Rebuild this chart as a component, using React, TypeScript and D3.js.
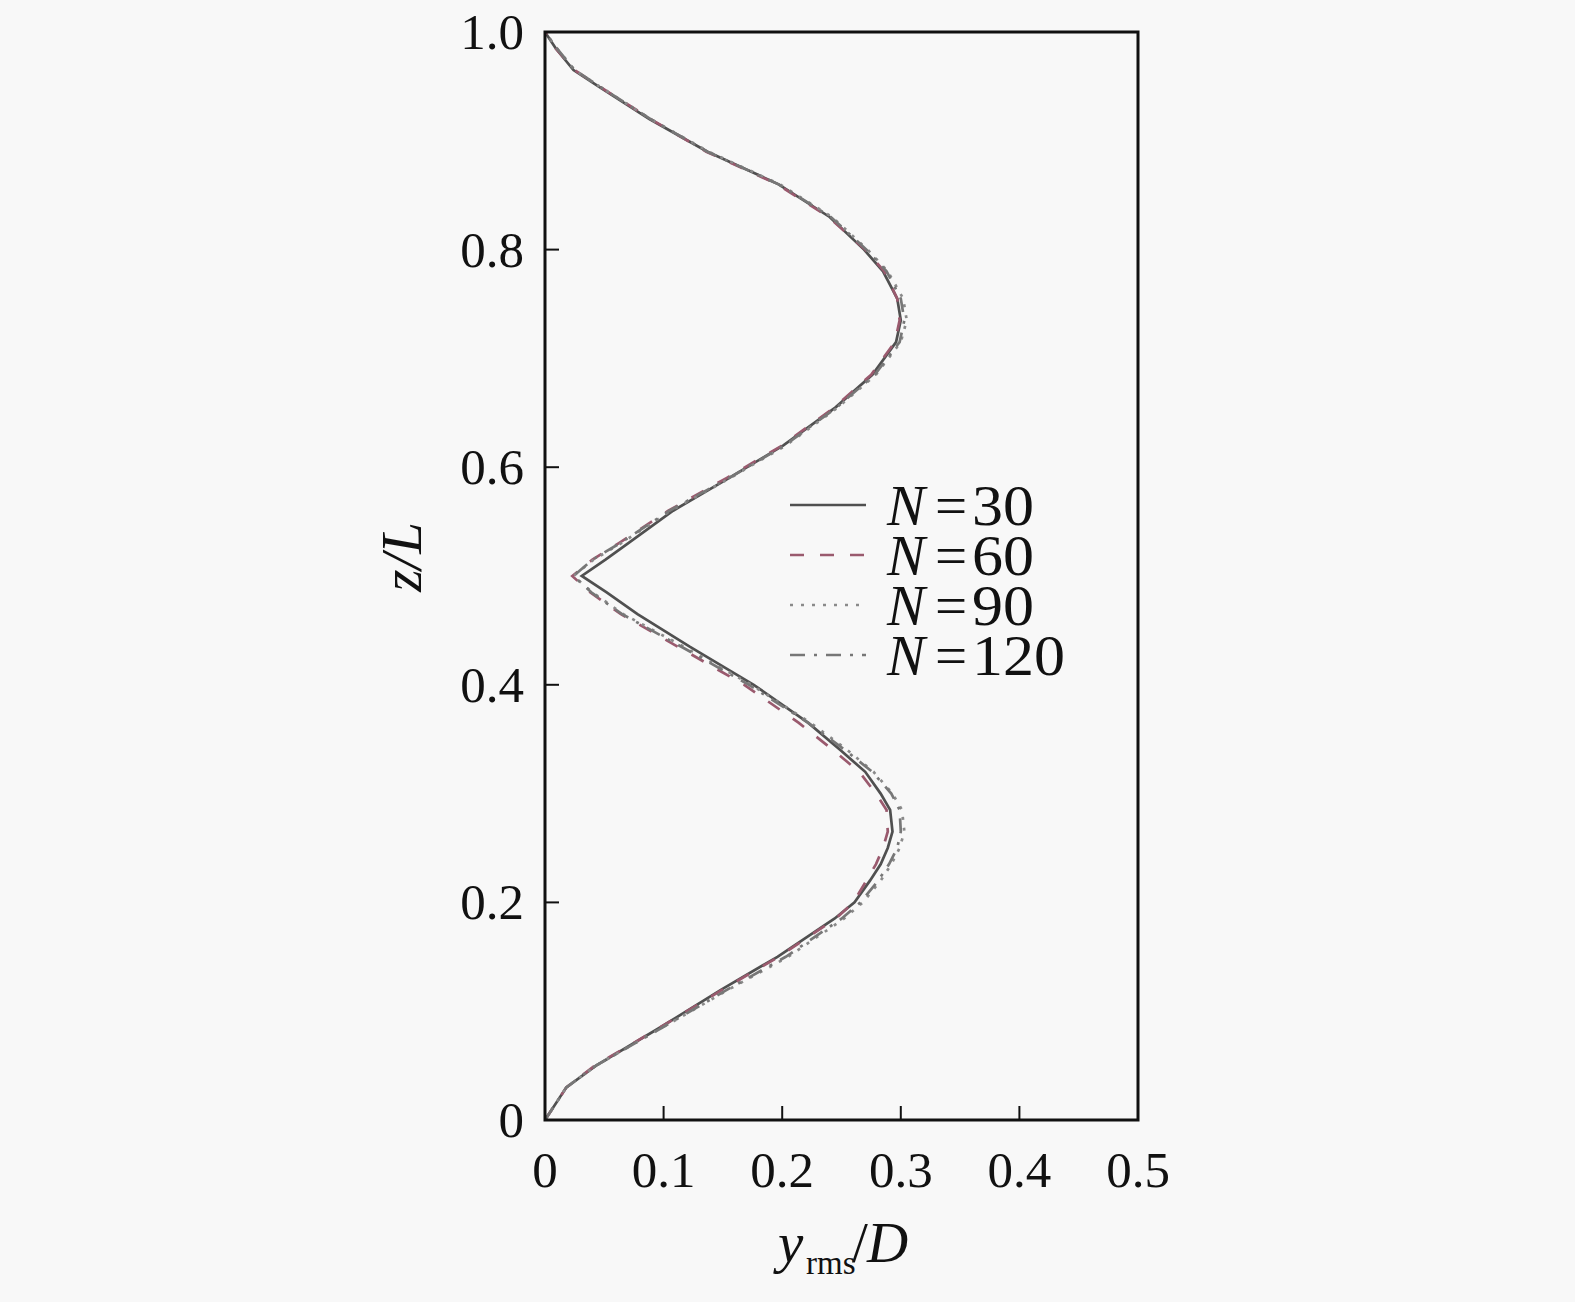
import React from "react";
import * as d3 from "d3";

const zGrid = [0, 0.03, 0.05, 0.085, 0.12, 0.15, 0.185, 0.2, 0.22, 0.235, 0.25, 0.265, 0.285, 0.3, 0.32, 0.34, 0.365, 0.4, 0.435, 0.465, 0.485, 0.5, 0.515, 0.53, 0.56, 0.59, 0.62, 0.655, 0.685, 0.715, 0.735, 0.755, 0.78, 0.8, 0.83, 0.86, 0.89, 0.92, 0.95, 0.965, 0.985, 1.0];

const n30 = [0, 0.018, 0.043, 0.097, 0.149, 0.196, 0.244, 0.261, 0.274, 0.283, 0.289, 0.293, 0.291, 0.283, 0.27, 0.249, 0.222, 0.176, 0.122, 0.078, 0.052, 0.031, 0.051, 0.07, 0.108, 0.155, 0.201, 0.245, 0.276, 0.296, 0.3, 0.297, 0.285, 0.269, 0.24, 0.197, 0.137, 0.088, 0.045, 0.024, 0.009, 0];
const n60 = [0, 0.018, 0.042, 0.097, 0.15, 0.197, 0.245, 0.26, 0.271, 0.279, 0.285, 0.289, 0.288, 0.279, 0.265, 0.243, 0.214, 0.168, 0.112, 0.064, 0.038, 0.023, 0.04, 0.062, 0.104, 0.153, 0.2, 0.244, 0.275, 0.295, 0.299, 0.297, 0.286, 0.27, 0.239, 0.196, 0.136, 0.089, 0.046, 0.025, 0.009, 0];
const n90 = [0, 0.018, 0.043, 0.099, 0.155, 0.205, 0.252, 0.268, 0.283, 0.292, 0.299, 0.303, 0.301, 0.293, 0.277, 0.255, 0.224, 0.174, 0.117, 0.066, 0.04, 0.024, 0.041, 0.064, 0.106, 0.156, 0.203, 0.247, 0.279, 0.3, 0.305, 0.302, 0.289, 0.272, 0.242, 0.198, 0.138, 0.089, 0.046, 0.025, 0.01, 0];
const n120 = [0, 0.018, 0.043, 0.099, 0.154, 0.203, 0.25, 0.266, 0.281, 0.29, 0.297, 0.3, 0.299, 0.292, 0.276, 0.253, 0.222, 0.172, 0.115, 0.065, 0.039, 0.024, 0.04, 0.063, 0.105, 0.155, 0.202, 0.246, 0.278, 0.299, 0.303, 0.3, 0.288, 0.271, 0.241, 0.197, 0.137, 0.089, 0.046, 0.025, 0.01, 0];

const seriesNames = ["30", "60", "90", "120"];
const seriesValues = [n30, n60, n90, n120];
const seriesColors = ["#505050", "#9a5a6e", "#8a8a8a", "#777777"];
const seriesDash = ["none", "14,16", "3,8", "15,9,3,9"];

const xTicks = [0, 0.1, 0.2, 0.3, 0.4, 0.5];
const yTicks = [0, 0.2, 0.4, 0.6, 0.8, 1.0];
const yTickLabels = ["0", "0.2", "0.4", "0.6", "0.8", "1.0"];

export default function App() {
  const W = 1575, H = 1302;
  const left = 545, right = 1138, top = 32, bottom = 1120;
  const x = d3.scaleLinear().domain([0, 0.5]).range([left, right]);
  const y = d3.scaleLinear().domain([0, 1]).range([bottom, top]);
  const line = d3.line<[number, number]>().x((d) => x(d[0])).y((d) => y(d[1]));
  const font = "'Liberation Serif', 'Times New Roman', serif";
  const legX0 = 790, legX1 = 866;
  const legY = [505, 555, 605, 655];

  return (
    <svg width={W} height={H} style={{ position: "absolute", left: 0, top: 0, background: "#f8f8f8" }} fontFamily={font}>
      <rect x={0} y={0} width={W} height={H} fill="#f8f8f8" />
      {seriesValues.map((vals, i) => (
        <path key={i} d={line(vals.map((v, j) => [v, zGrid[j]] as [number, number])) || ""} fill="none"
          stroke={seriesColors[i]} strokeWidth={2.7} strokeDasharray={seriesDash[i]} />
      ))}
      <rect x={left} y={top} width={right - left} height={bottom - top} fill="none" stroke="#111" strokeWidth={3} />
      {xTicks.filter((t) => t > 0 && t < 0.5).map((t) => (
        <line key={t} x1={x(t)} x2={x(t)} y1={bottom} y2={bottom - 14} stroke="#111" strokeWidth={2} />
      ))}
      {yTicks.filter((t) => t > 0 && t < 1).map((t) => (
        <line key={t} x1={left} x2={left + 14} y1={y(t)} y2={y(t)} stroke="#111" strokeWidth={2} />
      ))}
      {xTicks.map((t) => (
        <text key={t} x={x(t)} y={1187} textAnchor="middle" fontSize={51} fill="#111">{t === 0 ? "0" : String(t)}</text>
      ))}
      {yTicks.map((t, i) => (
        <text key={t} x={524} y={y(t) + 17} textAnchor="end" fontSize={51} fill="#111">{yTickLabels[i]}</text>
      ))}
      <text transform="translate(421,557) rotate(-90)" textAnchor="middle" fontSize={57} fill="#111" fontStyle="italic">z/L</text>
      <text x={778} y={1262} fontSize={57} fill="#111" fontStyle="italic">y</text>
      <text x={806} y={1274} fontSize={33} fill="#111">rms</text>
      <text x={852} y={1262} fontSize={57} fill="#111">/</text>
      <text x={867} y={1262} fontSize={57} fill="#111" fontStyle="italic">D</text>
      {seriesNames.map((n, i) => (
        <g key={n}>
          <line x1={legX0} x2={legX1} y1={legY[i]} y2={legY[i]} stroke={seriesColors[i]} strokeWidth={2.7} strokeDasharray={seriesDash[i]} />
          <text x={887} y={legY[i] + 20} fontSize={57} fill="#111" fontStyle="italic">N</text>
          <text x={935} y={legY[i] + 20} fontSize={57} fill="#111">=</text>
          <text x={972} y={legY[i] + 20} fontSize={57} fill="#111" textLength={31 * n.length} lengthAdjust="spacingAndGlyphs">{n}</text>
        </g>
      ))}
    </svg>
  );
}
